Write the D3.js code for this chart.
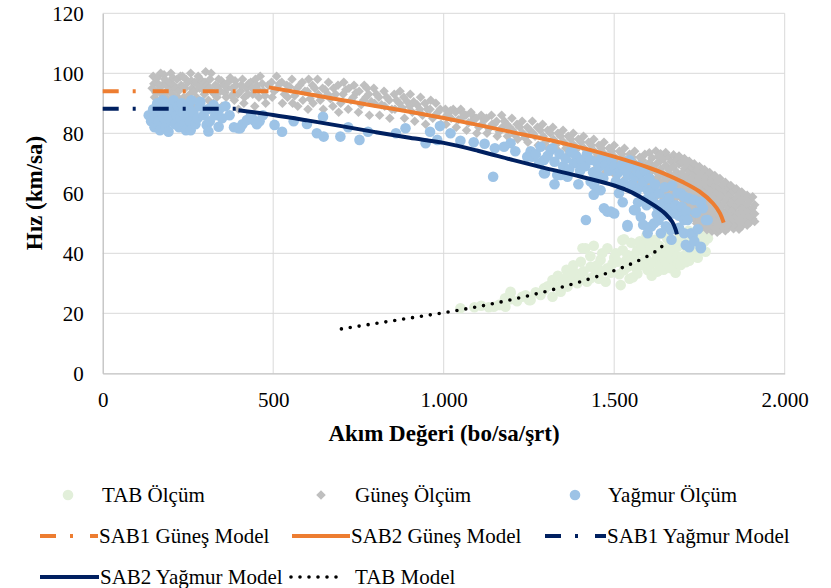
<!DOCTYPE html>
<html>
<head>
<meta charset="utf-8">
<script src="https://cdn.jsdelivr.net/npm/d3@7/dist/d3.min.js"></script>
<style>
  html, body { margin: 0; padding: 0; background: #ffffff; }
  svg { display: block; }
</style>
</head>
<body>
<svg id="chart" width="831" height="588"></svg>
<script>
// Axis ticks
const xTicks = [0, 500, 1000, 1500, 2000];
const yTicks = [0, 20, 40, 60, 80, 100, 120];

// Measurements: [flow (bo/sa/şrt), speed (km/sa)]
const tabOlcum = [
  [1049,21.7],[1090,22],[1110,22.5],[1132,22],[1147,22.2],[1162,22.8],[1167,22.8],[1181,22.2],[1180,25],
  [1196,24.7],[1196,26.7],[1196,27.2],[1215,24],[1230,25.5],[1240,26],[1250,24.4],[1255,24.4],[1270,27],
  [1284,26.1],[1294,27.8],[1294,28.3],[1305,29],[1319,25.5],[1319,31.1],[1330,29],[1335,32.5],[1343,27.2],
  [1350,30.5],[1360,34.5],[1363,28.9],[1363,32.2],[1375,31],[1380,36],[1385,33.5],[1392,30],[1400,32],
  [1402,37.2],[1407,41.7],[1410,34],[1416,41.7],[1420,30.5],[1430,39],[1431,31.7],[1431,35.5],[1440,42.5],
  [1445,33],[1450,36],[1455,31.5],[1460,37.8],[1465,34],[1465,40],[1475,30.5],[1480,35],[1480,41.7],
  [1490,33.5],[1495,36.5],[1500,38.5],[1505,40],[1510,37.2],[1515,33],[1519,29.4],[1524,44.4],[1525,41],
  [1529,34.4],[1529,44.7],[1535,37.5],[1539,39.4],[1540,35.5],[1545,31.5],[1550,38],[1550,43.5],[1555,32],
  [1560,39.5],[1565,35],[1568,33.3],[1568,41.1],[1575,44],[1578,37.2],[1580,42.5],[1585,36],[1590,40],
  [1595,38],[1595,46],[1598,34.4],[1600,44],[1605,36],[1607,42.2],[1610,32.5],[1615,37],[1620,40.5],
  [1620,44.5],[1625,38.5],[1627,33.9],[1632,42.5],[1635,36],[1640,41],[1640,46.5],[1645,34.5],[1646,38.9],
  [1650,37],[1655,45],[1656,35.5],[1660,40],[1662,42.5],[1666,35],[1670,38],[1672,40.5],[1675,44],
  [1680,33.5],[1685,39],[1686,36.7],[1686,42.2],[1690,36.7],[1690,47],[1692,44.5],[1695,36.1],[1700,39],
  [1700,46],[1705,43],[1710,37],[1712,42],[1715,40],[1718,47.5],[1720,37.5],[1725,44],[1730,41],
  [1734,38.9],[1735,39],[1740,47],[1744,41.7],[1745,38.5],[1748,48],[1750,44],[1755,42],[1760,46],
  [1764,43.9],[1768,40.5],[1772,47],[1775,45]
];

const gunesOlcum = [
  [145,95],[148,99],[150,96.5],[152,92],[156,93.5],[158,97],[160,98.5],[162,94],[165,90],[168,95.5],
  [170,100],[173,93],[175,96],[178,92],[180,99.5],[182,98],[186,96],[188,94],[190,91.5],[192,89],
  [196,97],[198,94.5],[200,100],[204,93],[206,98.5],[208,96],[212,91],[214,95],[218,98],[220,92],
  [222,94],[226,88],[228,99],[230,96],[234,99],[236,95.5],[238,92],[242,95],[244,98],[246,90],[250,97],
  [252,91.5],[255,93],[258,100],[260,97.5],[262,95],[266,89],[268,94],[270,97],[275,92],[276,96.5],
  [280,99],[284,95],[286,98],[288,90],[292,97],[294,94.5],[298,93],[300,97],[302,100.5],[306,96],
  [310,91],[312,95],[315,98],[318,100],[320,94],[325,90],[328,93],[330,96],[335,92],[338,95.5],[340,98],
  [345,94],[348,97.5],[350,89],[356,96],[358,93.5],[362,92],[366,95],[368,97],[374,98.5],[378,92.5],
  [380,95],[386,91],[388,97.5],[392,96],[396,93],[398,88],[404,94],[406,96],[410,98],[414,90],[416,92],
  [422,95],[426,93],[428,96.5],[434,97],[438,95],[440,93],[446,89],[448,98],[452,96],[456,94.5],
  [458,92],[462,99],[468,96.5],[472,94],[476,92.5],[478,90],[485,96],
  [495,97],[497,92],[503,94],[510,99],[512,95],[518,96.5],[525,97],[527,90],[533,93],[540,96],[542,92],
  [548,95.5],[555,98],[557,90],[563,92.5],[570,95],[572,89],[578,96],[585,97],[587,91],[593,94],
  [600,94],[602,88],[604,98],[608,91.5],[615,96],[617,90],[622,95],[630,98],[632,93],[638,91],[645,95],
  [647,88],[652,94.5],[660,93],[662,97],[668,91.5],[675,89],[677,95],[683,93],[690,96],[692,87],
  [698,90],[705,93],[707,97],[713,94.5],[720,88],[722,95],[728,91],[735,92],[737,96],[743,93.5],
  [750,87],[752,94],[758,89.5],[765,91],[767,96],[772,92],[775,95],[780,93],[782,86],[788,90.5],
  [795,95],[797,90],[803,93],[810,92],[812,86],[818,89.5],[825,94],[827,89],[833,92],[840,91],[842,85],
  [848,88],[855,93],[857,88],[862,91],[870,90],[872,94],[878,88.5],[883,92],[885,85],[893,90.5],
  [900,89],[902,93],[908,87],[912,90.5],[915,84],[922,89.5],[930,88],[932,92],[938,86],[945,90],
  [947,83],[952,88],[960,88],[962,91],[968,85],[975,86],[977,90],[983,87],[990,88],[992,83],
  [1005,88],[1007,83],[1009,86],[1013,86],[1020,87.5],[1022,85],[1028,88],[1035,87],[1037,82],
  [1043,84.5],[1050,88],[1052,85],[1058,86.5],[1065,86],[1067,81],[1073,83.5],[1080,87],[1082,84],
  [1088,85.5],[1095,85],[1097,80],[1103,82],[1110,86],[1112,83],[1118,84.5],[1125,85],[1127,80],
  [1133,81.5],[1140,86],[1142,83],[1148,83],[1155,84],[1157,79],[1163,80.5],[1170,86],[1172,82],
  [1178,84],[1185,83],[1187,79],[1193,82],[1200,85],[1202,81],[1208,79.5],[1215,83],[1217,78],
  [1223,82],[1230,84],[1232,80],[1238,78.5],[1245,82],[1247,77],[1253,81],[1260,84],[1262,80],
  [1268,79],[1275,82],[1277,76],[1283,81],[1290,83],[1292,79],[1298,77],[1305,81],[1307,75],[1313,80],
  [1320,82],[1322,78],[1328,76],[1335,80],[1337,74],[1343,79],[1350,81],[1352,77],[1358,75],[1365,79],
  [1367,73],[1373,78],[1380,80],[1382,76],[1384,71],[1388,74.5],[1395,78],[1397,72],[1403,77],[1410,79],
  [1412,75],[1414,69],[1418,73],[1425,77],[1427,71],[1433,76],[1440,78],[1442,74],[1444,68],[1448,72],
  [1455,76],[1457,70],[1463,75],[1470,77],[1472,73],[1474,67],[1478,71],[1485,75],[1487,69],[1493,74],
  [1500,76],[1502,72],[1504,66],[1508,70],[1515,74],[1517,68],[1523,73],[1530,75],[1532,71],[1534,65],
  [1538,69],[1545,73],[1547,67],[1553,72],[1560,74],[1562,70],[1564,64],[1568,68],[1575,72],[1577,66],
  [1583,71],[1590,73],[1592,69],[1594,63],[1598,67],
  [1603,73.5],[1603,70.2],[1603,66.8],[1603,63.1],[1603,59.5],[1611,71.8],[1611,68.4],[1611,64.9],
  [1611,61.2],[1622,74.1],[1622,69.6],[1622,67.3],[1622,62.5],[1622,58.8],[1628,72.2],[1628,65.4],
  [1628,60.3],[1636,73.2],[1636,70.9],[1636,68.1],[1636,63.8],[1636,59.9],[1645,71.5],[1645,66.2],
  [1645,62],[1645,58.4],[1651,73.6],[1651,69.3],[1651,64.7],[1651,60.6],[1660,72],[1660,67.8],
  [1660,63.4],[1660,59.1],[1660,56.9],[1667,70.5],[1667,65.9],[1667,61.8],[1674,72.8],[1674,68.9],
  [1674,64.2],[1674,60.1],[1674,57.6],[1683,71.2],[1683,67.1],[1683,63],[1683,58.7],[1690,72.4],
  [1690,69.7],[1690,65.5],[1690,61.4],[1690,55.8],[1698,70.3],[1698,66.6],[1698,62.8],[1698,58.2],
  [1698,54.9],[1706,71.6],[1706,68.2],[1706,64.4],[1706,60.5],[1706,56.3],[1713,69.1],[1713,65.8],
  [1713,61.9],[1713,57.7],[1713,53.5],[1720,70.7],[1720,67.4],[1720,63.3],[1720,59.6],[1720,55.4],
  [1720,52.2],[1728,68.5],[1728,64.8],[1728,61],[1728,57],[1728,53.8],[1735,69.8],[1735,66.3],
  [1735,62.6],[1735,58.9],[1735,55],[1735,51.4],[1742,67.6],[1742,64],[1742,60.2],[1742,56.6],
  [1742,52.6],[1742,49.9],[1750,68.9],[1750,65.3],[1750,61.7],[1750,58],[1750,54.3],[1750,50.8],
  [1757,66.8],[1757,63.2],[1757,59.4],[1757,55.7],[1757,51.9],[1757,48.6],[1765,67.9],[1765,64.6],
  [1765,60.9],[1765,57.3],[1765,53.4],[1765,49.7],[1772,65.7],[1772,62.2],[1772,58.6],[1772,54.8],
  [1772,51.1],[1772,47.9],[1780,66.9],[1780,63.6],[1780,60],[1780,56.2],[1780,52.5],[1780,49],
  [1787,64.8],[1787,61.3],[1787,57.6],[1787,53.9],[1787,50.3],[1787,47.4],[1795,65.9],[1795,62.7],
  [1795,59.1],[1795,55.5],[1795,51.7],[1795,48.3],[1802,63.9],[1802,60.4],[1802,56.8],[1802,53.1],
  [1802,49.6],[1802,47],[1810,64.9],[1810,61.7],[1810,58.3],[1810,54.6],[1810,50.9],[1810,47.8],
  [1818,62.8],[1818,59.6],[1818,56],[1818,52.3],[1818,48.9],[1826,63.7],[1826,60.8],[1826,57.4],
  [1826,53.7],[1826,50.2],[1826,47.5],[1834,61.9],[1834,58.8],[1834,55.2],[1834,51.6],[1834,48.4],
  [1842,62.6],[1842,59.9],[1842,56.6],[1842,53],[1842,49.8],[1850,60.8],[1850,57.9],[1850,54.4],
  [1850,51],[1850,48.2],[1858,61.5],[1858,58.5],[1858,55.8],[1858,52.4],[1858,49.3],[1866,59.7],
  [1866,56.9],[1866,53.6],[1866,50.5],[1866,48],[1874,60.4],[1874,57.5],[1874,54.9],[1874,51.8],
  [1874,49],[1882,58.6],[1882,55.6],[1882,52.8],[1882,50.1],[1890,59.3],[1890,56.4],[1890,53.9],
  [1890,51.2],[1890,49.4],[1898,57.6],[1898,54.5],[1898,52],[1898,50.3],[1906,58.8],[1906,55.1],
  [1906,51.5],[1912,56.2],[1912,53.2],[1912,50.6]
];

const yagmurOlcum = [
  [135,86],[142,84],[148,88],[152,82],[156,86],[160,90],[164,84],[168,81],[172,87],[176,91],[180,85],
  [184,82],[183,90],[188,89],[192,86],[193,80.5],[200,84],[204,88],[208,91],[212,83],[216,86],[220,89],
  [224,82],[228,85],[232,90],[236,87],[240,83],[244,81],[248,86],[252,89],[256,84],[258,81],[260,91],
  [266,87],[272,83],[278,85],[284,89],[286,90.5],[296,86],[305,82.8],[308,88],[310,80.6],[314,84],
  [325,89.4],[330,86],[340,82.2],[342,88],[350,85],[360,89],[372,86],[385,82],[398,81.7],[403,81.7],
  [410,83],[423,84.4],[435,86],[442,84.4],[452,83],[460,84],[470,86],
  [504,82.8],[526,80.5],[560,84],[599,83.1],[628,80],[646,85.5],[648,78.9],[697,78.9],[720,82],
  [753,77.8],[778,80.5],[860,80],[888,81.7],[947,76.7],[960,80.5],[981,77.8],[989,82.4],[1020,80],
  [1049,77.5],[1088,77],[1120,76.5],[1145,65.5],[1150,75],[1177,75.5],[1196,76.7],[1210,74],
  [1245,72.2],[1255,74],[1260,72.2],[1270,73],[1280,70],[1284,75.5],[1294,71.1],[1294,66.7],
  [1297,66.7],[1305,72.5],[1314,74.4],[1319,75],[1325,70.5],[1325,63],[1333,66.1],[1340,73],
  [1343,66.1],[1350,69],[1358,71.5],[1363,65.5],[1368,68],[1372,73.9],[1377,73.9],[1382,70],
  [1388,72.5],[1392,70],[1395,63],[1400,67.5],[1405,71],[1415,69],[1417,51.1],[1420,73],[1431,71.1],
  [1431,63.9],[1438,67],[1440,59.5],[1441,62.8],[1441,63.3],[1448,70.5],[1452,66],[1456,68.9],
  [1460,70],[1460,61],[1465,72],[1468,65],[1470,55],[1475,69.4],[1480,53.9],[1485,67.5],[1490,53.9],
  [1492,71],[1500,53.3],[1500,68.9],[1505,64],[1510,66.7],[1514,60],[1519,67.8],[1522,69.5],
  [1525,57],[1528,63.5],[1534,68.3],[1539,49.4],[1539,48.9],[1540,66],[1545,71],[1549,68.9],
  [1549,62.8],[1554,62.8],[1558,54.4],[1560,65.5],[1563,54.4],[1565,60.5],[1568,67.2],[1570,57],
  [1572,69],[1578,66.7],[1578,62.2],[1578,52.2],[1585,64],[1585,49.5],[1590,67.5],[1595,56],
  [1598,61.1],[1598,58.3],[1598,46.7],[1603,65],[1608,61.1],[1608,48.9],[1612,61.1],[1612,58.5],
  [1617,56.7],[1617,50],[1620,63],[1625,53],[1627,55.5],[1630,51],[1632,60],[1637,46.7],[1640,56.5],
  [1646,52.8],[1648,62],[1652,49],[1656,58.3],[1660,55],[1661,58.3],[1666,47.8],[1668,44.5],
  [1670,62.5],[1676,53.3],[1680,56],[1686,60],[1690,52.5],[1690,48.5],[1695,60],[1698,55.5],
  [1705,58.9],[1705,51.1],[1705,46.7],[1710,42.8],[1712,54],[1715,51.1],[1720,58.3],[1720,42],
  [1725,46.7],[1730,46.1],[1734,57.8],[1735,44],[1740,53.5],[1745,48],[1754,57.2],[1754,56.7],
  [1754,42.2],[1754,41.7],[1760,55],[1769,51.1],[1774,51.1]
];

// Models: [flow, speed]
const sab1Gunes = [[0,94],[486,94]];
const sab2Gunes = [
  [487,95.3],[600,93.1],[700,91.1],[800,89.1],[900,87.2],[1000,85.1],[1100,82.8],[1200,80.4],
  [1300,78],[1400,75.3],[1500,72.2],[1600,68.6],[1650,66.4],[1700,63.8],[1750,60.6],[1790,56.6],
  [1810,53.4],[1821,50.2]
];
const sab1Yagmur = [[0,88.2],[395,88.2]];
const sab2Yagmur = [
  [398,87.7],[500,86.1],[600,84.3],[700,82.4],[800,80.4],[900,78.5],[1000,76.8],[1100,74.2],
  [1200,71.2],[1300,68.3],[1400,65.6],[1500,62.6],[1550,60.4],[1600,57.2],[1630,55],[1650,53.2],
  [1670,50.5],[1680,48],[1684,46.3]
];
const tabModel = [
  [700,14.8],[800,16.6],[900,18.4],[1000,20.2],[1100,22.2],[1200,24.6],[1300,27.3],[1400,30.5],
  [1500,34.2],[1550,36.5],[1600,39.2],[1630,41.3],[1650,43.4]
];

const colors = {
  tab: "#e2efda", gunes: "#bfbfbf", yagmur: "#9dc3e6",
  orange: "#ed7d31", navy: "#002060", dots: "#000000", grid: "#d9d9d9"
};
const FONT = "Liberation Serif";

const svg = d3.select("#chart");
const x = d3.scaleLinear().domain([0, 2000]).range([102.7, 784.7]);
const y = d3.scaleLinear().domain([0, 120]).range([373.3, 13.3]);

const fmt = d3.formatLocale({ decimal: ",", thousands: ".", grouping: [3], currency: ["", ""] }).format(",d");

// Gridlines
const grid = svg.append("g");
grid.selectAll("line.h").data(yTicks.slice(1)).join("line")
  .attr("x1", x(0)).attr("x2", x(2000)).attr("y1", d => y(d)).attr("y2", d => y(d))
  .attr("stroke", colors.grid).attr("stroke-width", 1);
grid.selectAll("line.v").data(xTicks.slice(1)).join("line")
  .attr("y1", y(0)).attr("y2", y(120)).attr("x1", d => x(d)).attr("x2", d => x(d))
  .attr("stroke", colors.grid).attr("stroke-width", 1);

// Axes
const xAxis = svg.append("g").attr("transform", `translate(0,${y(0)})`)
  .call(d3.axisBottom(x).tickValues(xTicks).tickFormat(fmt).tickSize(0).tickPadding(0))
  .attr("font-family", FONT).attr("font-size", 21);
xAxis.select(".domain").attr("stroke", "#bfbfbf").attr("stroke-width", 1.3);
xAxis.selectAll("text").attr("y", 34).attr("dy", null).attr("fill", "#000");

const yAxis = svg.append("g").attr("transform", `translate(${x(0)},0)`)
  .call(d3.axisLeft(y).tickValues(yTicks).tickSize(0).tickPadding(19))
  .attr("font-family", FONT).attr("font-size", 21);
yAxis.select(".domain").attr("stroke", "#bfbfbf").attr("stroke-width", 1.3);
yAxis.selectAll("text").attr("fill", "#000");

// Axis titles
svg.append("text").attr("x", 444).attr("y", 441).attr("text-anchor", "middle")
  .attr("font-family", FONT).attr("font-size", 23).attr("font-weight", "bold")
  .text("Akım Değeri (bo/sa/şrt)");
svg.append("text").attr("transform", `translate(42,193) rotate(-90)`).attr("text-anchor", "middle")
  .attr("font-family", FONT).attr("font-size", 23).attr("font-weight", "bold")
  .text("Hız (km/sa)");

// Scatter series
const plot = svg.append("g");
plot.append("g").selectAll("circle").data(tabOlcum).join("circle")
  .attr("cx", d => x(d[0])).attr("cy", d => y(d[1])).attr("r", 5.3).attr("fill", colors.tab);

const diamond = d3.symbol().type(d3.symbolSquare).size(46);
plot.append("g").selectAll("path").data(gunesOlcum).join("path")
  .attr("d", diamond)
  .attr("transform", d => `translate(${x(d[0])},${y(d[1])}) rotate(45)`)
  .attr("fill", colors.gunes);

plot.append("g").selectAll("circle").data(yagmurOlcum).join("circle")
  .attr("cx", d => x(d[0])).attr("cy", d => y(d[1])).attr("r", 5.3).attr("fill", colors.yagmur);

// Model lines
const line = d3.line().x(d => x(d[0])).y(d => y(d[1])).curve(d3.curveCatmullRom.alpha(0.5));
const dashDot = "16,14,3,17";

plot.append("path").datum(sab1Gunes).attr("d", line).attr("fill", "none")
  .attr("stroke", colors.orange).attr("stroke-width", 4).attr("stroke-dasharray", dashDot);
plot.append("path").datum(sab2Gunes).attr("d", line).attr("fill", "none")
  .attr("stroke", colors.orange).attr("stroke-width", 4);
plot.append("path").datum(sab1Yagmur).attr("d", line).attr("fill", "none")
  .attr("stroke", colors.navy).attr("stroke-width", 4).attr("stroke-dasharray", dashDot);
plot.append("path").datum(sab2Yagmur).attr("d", line).attr("fill", "none")
  .attr("stroke", colors.navy).attr("stroke-width", 4);
plot.append("path").datum(tabModel).attr("d", line).attr("fill", "none")
  .attr("stroke", colors.dots).attr("stroke-width", 3.6).attr("stroke-linecap", "round")
  .attr("stroke-dasharray", "0,9");

// Legend
const legendItems = [
  { name: "TAB Ölçüm", kind: "circle", color: colors.tab, mx: 68, tx: 102, ty: 495 },
  { name: "Güneş Ölçüm", kind: "diamond", color: colors.gunes, mx: 321, tx: 355, ty: 495 },
  { name: "Yağmur Ölçüm", kind: "circle", color: colors.yagmur, mx: 575, tx: 608, ty: 495 },
  { name: "SAB1 Güneş Model", kind: "dashdot", color: colors.orange, lx: [40, 98], tx: 99, ty: 536 },
  { name: "SAB2 Güneş Model", kind: "solid", color: colors.orange, lx: [292, 350], tx: 351, ty: 536 },
  { name: "SAB1 Yağmur Model", kind: "dashdot", color: colors.navy, lx: [545, 606], tx: 607, ty: 536 },
  { name: "SAB2 Yağmur Model", kind: "solid", color: colors.navy, lx: [40, 99], tx: 100, ty: 577 },
  { name: "TAB Model", kind: "dots", color: colors.dots, lx: [291, 345], tx: 355, ty: 577 }
];
const legend = svg.append("g").attr("font-family", FONT).attr("font-size", 21);
legendItems.forEach(it => {
  const g = legend.append("g");
  if (it.kind === "circle") {
    g.append("circle").attr("cx", it.mx).attr("cy", it.ty).attr("r", 5.3).attr("fill", it.color);
  } else if (it.kind === "diamond") {
    g.append("path").attr("d", diamond).attr("transform", `translate(${it.mx},${it.ty}) rotate(45)`).attr("fill", it.color);
  } else {
    const l = g.append("line").attr("x1", it.lx[0]).attr("x2", it.lx[1]).attr("y1", it.ty).attr("y2", it.ty)
      .attr("stroke", it.color);
    if (it.kind === "dashdot") l.attr("stroke-width", 4).attr("stroke-dasharray", dashDot);
    else if (it.kind === "solid") l.attr("stroke-width", 4);
    else l.attr("stroke-width", 3.6).attr("stroke-linecap", "round").attr("stroke-dasharray", "0,9");
  }
  g.append("text").attr("x", it.tx).attr("y", it.ty).attr("dy", "0.35em").text(it.name);
});
</script>
</body>
</html>
